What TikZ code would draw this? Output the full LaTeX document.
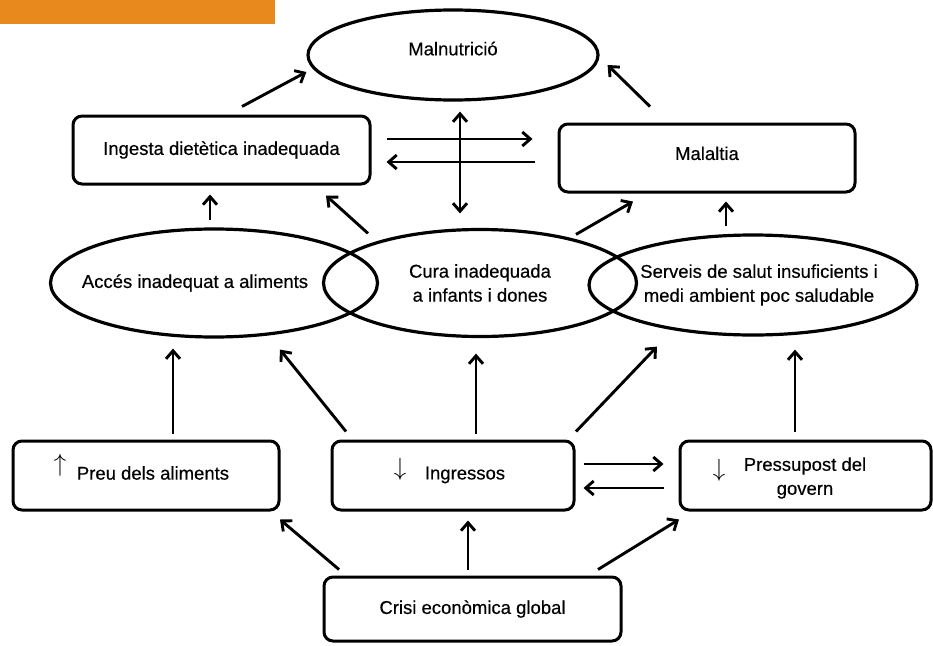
\documentclass[tikz,border=0pt]{standalone}
\usepackage{fontspec}
\setmainfont{Liberation Sans}[FakeBold=0.4]
\usetikzlibrary{arrows.meta,shapes.geometric,calc}
\definecolor{barorange}{RGB}{232,137,30}
\begin{document}
\begin{tikzpicture}[x=1pt,y=-1pt,
  every node/.style={font=\fontsize{18.5}{24}\selectfont, inner sep=0pt},
  box/.style={draw, line width=3pt, rounded corners=9pt, rectangle},
  ell/.style={draw, line width=3.2pt, ellipse},
  arr/.style={line width=2.9pt, -{Straight Barb[length=8pt,width=14pt]}},
  darr/.style={line width=2.9pt, {Straight Barb[length=8pt,width=14pt]}-{Straight Barb[length=8pt,width=14pt]}},
  sym/.style={font=\fontsize{30}{30}\selectfont}]
\useasboundingbox (0,0) rectangle (933,645);
\fill[barorange] (0,0) rectangle (275,24);

% top row
\node[ell, minimum width=290pt, minimum height=90pt, text depth=13pt] (mal) at (453,55) {Malnutrició};
\node[box, minimum width=297pt, minimum height=68pt] (ing) at (221.5,150) {Ingesta dietètica inadequada};
\node[box, minimum width=296pt, minimum height=68pt, text depth=9.5pt] (mala) at (707,158) {Malaltia};

% middle ellipses
\node[ell, minimum width=327pt, minimum height=108pt] (acc) at (214,283) {\makebox[0pt]{Accés inadequat a aliments\hspace{38pt}}};
\node[ell, minimum width=313pt, minimum height=107pt, align=center] (cura) at (480,283) {Cura inadequada\\a infants i dones};
\node[ell, minimum width=328pt, minimum height=100pt] (serv) at (753,285) {\makebox[0pt]{\hspace{12pt}\begin{tabular}{@{}c@{}}Serveis de salut insuficients i\\medi ambient poc saludable\end{tabular}}};

% bottom row
\node[box, minimum width=266pt, minimum height=69pt] (preu) at (146,475.5) {};
\node[sym] (preuA) at (60,465) {$\uparrow$};
\node (preuT) at (153,473) {Preu dels aliments};
\node[box, minimum width=242pt, minimum height=69pt] (ingr) at (453,475.5) {};
\node[sym] (ingrA) at (400,469) {$\downarrow$};
\node (ingrT) at (465,475) {Ingressos};
\node[box, minimum width=251pt, minimum height=69pt] (pres) at (805.5,475.5) {};
\node[sym] (presA) at (719,470) {$\downarrow$};
\node[align=center] (presT) at (805,478) {Pressupost del\\govern};
\node[box, minimum width=297pt, minimum height=64pt] (crisi) at (472.5,609) {Crisi econòmica global};

% arrows top
\draw[arr] ($(ing.north)+(20.5,-8)$) -- ($(mal.west)+(0,17)$);
\draw[arr] ($(mala.north)+(-57,-16)$) -- ($(mal.east)+(8,10)$);
\draw[arr] ($(ing.east)+(15,-11)$) -- ($(mala.west)+(-25,-19)$);
\draw[arr] ($(mala.west)+(-23,4)$) -- ($(ing.east)+(15,12)$);
\draw[darr] ($(mal.south)+(7,10)$) -- ($(cura.north)+(-20,-14.5)$);
\draw[arr] ($(acc.north)+(-4,-7)$) -- ($(ing.south)+(-11.5,9)$);
\draw[arr] ($(cura.north)+(-112,5.5)$) -- ($(ing.south)+(104.5,10)$);
\draw[arr] ($(cura.north)+(96,6.5)$) -- ($(mala.south)+(-74,8)$);
\draw[arr] ($(serv.north)+(-27,-7)$) -- ($(mala.south)+(19,8)$);

% arrows middle
\draw[arr] ($(preu.north)+(27,-6)$) -- ($(acc.south)+(-41,10)$);
\draw[arr] ($(ingr.north)+(-107,-8)$) -- ($(acc.south)+(66,11)$);
\draw[arr] ($(ingr.north)+(23,-6)$) -- ($(cura.south)+(-4,15.5)$);
\draw[arr] ($(ingr.north)+(123,-8)$) -- ($(serv.south)+(-96,10)$);
\draw[arr] ($(pres.north)+(-10.5,-8)$) -- ($(serv.south)+(42,13)$);

% arrows bottom
\draw[arr] ($(ingr.east)+(8,-11.5)$) -- ($(pres.west)+(-15,-11.5)$);
\draw[arr] ($(pres.west)+(-15,12.5)$) -- ($(ingr.east)+(8,12.5)$);
\draw[arr] ($(crisi.north)+(-133.5,-6)$) -- ($(preu.south)+(134,8)$);
\draw[arr] ($(crisi.north)+(-4.5,-6)$) -- ($(ingr.south)+(15,9)$);
\draw[arr] ($(crisi.north)+(125.5,-6)$) -- ($(pres.south)+(-126.5,8)$);
\end{tikzpicture}
\end{document}
